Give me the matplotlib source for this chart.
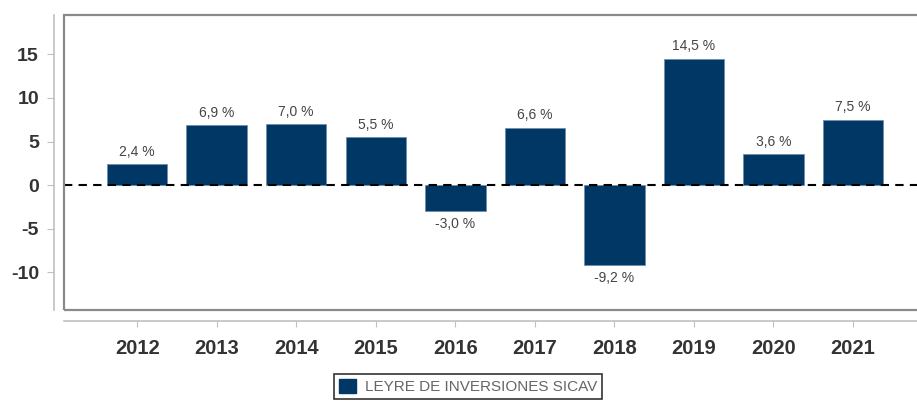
import numpy as np
import matplotlib
matplotlib.use('Agg')
import matplotlib.pyplot as plt
from matplotlib.patches import Rectangle, Patch

plt.rcParams['font.family'] = ['Liberation Sans', 'DejaVu Sans']

years = ['2012', '2013', '2014', '2015', '2016', '2017', '2018', '2019', '2020', '2021']
rent = [2.4, 6.9, 7.0, 5.5, -3.0, 6.6, -9.2, 14.5, 3.6, 7.5]
serie = 'LEYRE DE INVERSIONES SICAV'
y_ticks = [-10, -5, 0, 5, 10, 15]

W, H = 917, 401
fig = plt.figure(figsize=(W / 100, H / 100), dpi=100)
ax = fig.add_axes([64 / W, 1 - 310 / H, (W - 64) / W + 0.01, (310 - 15) / H])

x = np.arange(len(years))
bars = ax.bar(x, rent, width=0.76, color='#003764', edgecolor='#6f8fb0', linewidth=0.6, zorder=2)
ax.axhline(0, color='black', linestyle=(0, (4, 3)), linewidth=1.5, zorder=3)

for xi, v in zip(x, rent):
    txt = ('%.1f' % v).replace('.', ',') + ' %'
    if v >= 0:
        ax.text(xi, v + 0.6, txt, ha='center', va='bottom', fontsize=10, color='#444444')
    else:
        ax.text(xi, v - 0.6, txt, ha='center', va='top', fontsize=10, color='#444444')

ax.set_xlim(-0.92, 9.92)
ax.set_ylim(-14.3, 19.5)

# caja del grafico
for s in ['top', 'right']:
    ax.spines[s].set_visible(False)
ax.add_patch(Rectangle((0, 0), 1, 1, transform=ax.transAxes, fill=False,
                       edgecolor='#8a8a8a', linewidth=1.6, zorder=5, clip_on=False))
ax.spines['left'].set_position(('outward', 7))
ax.spines['left'].set_color('#c0c0c0')
ax.spines['left'].set_linewidth(1.2)
ax.spines['bottom'].set_position(('outward', 8))
ax.spines['bottom'].set_color('#c0c0c0')
ax.spines['bottom'].set_linewidth(1.2)

ax.set_yticks(y_ticks)
ax.set_yticklabels([str(t) for t in y_ticks], fontsize=14, fontweight='bold', color='#333333')
ax.set_xticks(x)
ax.set_xticklabels(years, fontsize=14.5, fontweight='bold', color='#333333')
ax.tick_params(axis='y', length=5, color='#c0c0c0', pad=6)
ax.tick_params(axis='x', length=4, color='#c0c0c0', pad=9)

leg = fig.legend(handles=[Patch(facecolor='#003764', edgecolor='#003764')], labels=[serie],
                 loc='upper center', bbox_to_anchor=(468 / W, 1 - 374 / H),
                 frameon=True, fancybox=False, fontsize=11, handlelength=1.1, handleheight=1.1,
                 borderpad=0.3, handletextpad=0.6, labelcolor='#666666', borderaxespad=0)
leg.get_frame().set_edgecolor('black')
leg.get_frame().set_linewidth(1.2)

fig.savefig('out.png', dpi=100)
